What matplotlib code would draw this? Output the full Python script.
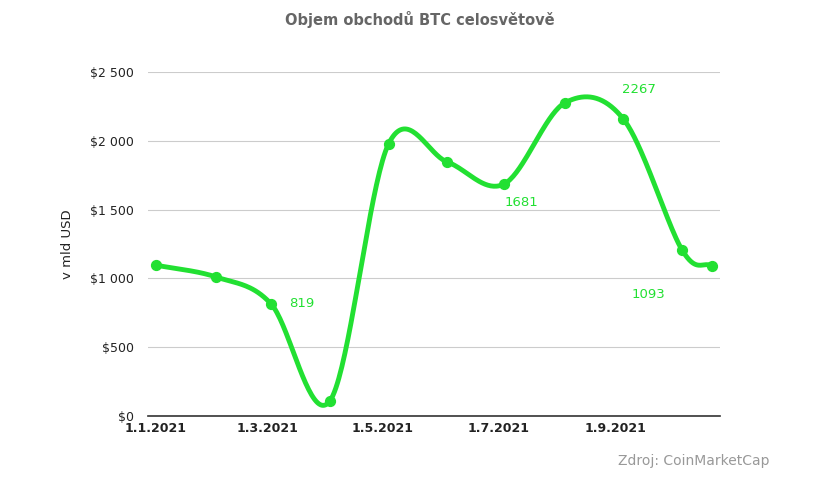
import numpy as np
import matplotlib
matplotlib.use("Agg")
import matplotlib.pyplot as plt

days = [0, 32, 61, 92, 123, 154, 184, 216, 247, 278, 294]
values = [1097, 1010, 814, 109, 1977, 1846, 1686, 2275, 2158, 1206, 1090]
tick_days = [0, 59, 120, 181, 243]
tick_labels = ["1.1.2021", "1.3.2021", "1.5.2021", "1.7.2021", "1.9.2021"]
yticks = [0, 500, 1000, 1500, 2000, 2500]
ylabels = ["$0", "$500", "$1 000", "$1 500", "$2 000", "$2 500"]
annot_text = ["819", "1681", "2267", "1093"]
annot_pos = [(77, 820), (193, 1550), (255, 2370), (260, 880)]

def catmull(x, y, n=40):
    x = np.array(x, float); y = np.array(y, float)
    px = np.concatenate([[2*x[0]-x[1]], x, [2*x[-1]-x[-2]]])
    py = np.concatenate([[2*y[0]-y[1]], y, [2*y[-1]-y[-2]]])
    X, Y = [], []
    for i in range(1, len(px)-2):
        t = np.linspace(0, 1, n)
        for arr, out in ((px, X), (py, Y)):
            p0, p1, p2, p3 = arr[i-1], arr[i], arr[i+1], arr[i+2]
            out.extend(0.5*((2*p1) + (-p0+p2)*t + (2*p0-5*p1+4*p2-p3)*t**2 + (-p0+3*p1-3*p2+p3)*t**3))
    return np.array(X), np.array(Y)

fig = plt.figure(figsize=(8.4, 4.8), dpi=100)
ax = fig.add_axes([148/840, 1-416/480, (720-148)/840, (416-72)/480])
sx, sy = catmull(days, values)
green = "#22e032"
ax.plot(sx, sy, color=green, lw=3.5, solid_capstyle="round", zorder=3)
ax.scatter(days, values, color=green, s=50, zorder=4)
for t, (px, py) in zip(annot_text, annot_pos):
    ax.text(px, py, t, color=green, fontsize=9.5, ha="center", va="center")
ax.set_xlim(-4, 298)
ax.set_ylim(0, 2500)
ax.set_yticks(yticks)
ax.set_yticklabels(ylabels, fontsize=9, color="#222222")
ax.set_xticks(tick_days)
ax.set_xticklabels(tick_labels, fontsize=9, fontweight="bold", color="#222222")
ax.grid(axis="y", color="#cccccc", lw=0.8)
for s in ["top", "right", "left"]:
    ax.spines[s].set_visible(False)
ax.spines["bottom"].set_color("#333333")
ax.spines["bottom"].set_linewidth(1.2)
ax.tick_params(axis="y", length=0, pad=10)
ax.tick_params(axis="x", length=0, pad=4)
ax.set_ylabel("v mld USD", fontsize=9.5, color="#222222", labelpad=12)
fig.text(0.5, 1-20/480, "Objem obchodů BTC celosvětově", ha="center", va="center",
         fontsize=10.5, fontweight="bold", color="#666666")
fig.text(770/840, 1-461/480, "Zdroj: CoinMarketCap", ha="right", va="center",
         fontsize=10, color="#999999")
fig.savefig("out.png", dpi=100)
